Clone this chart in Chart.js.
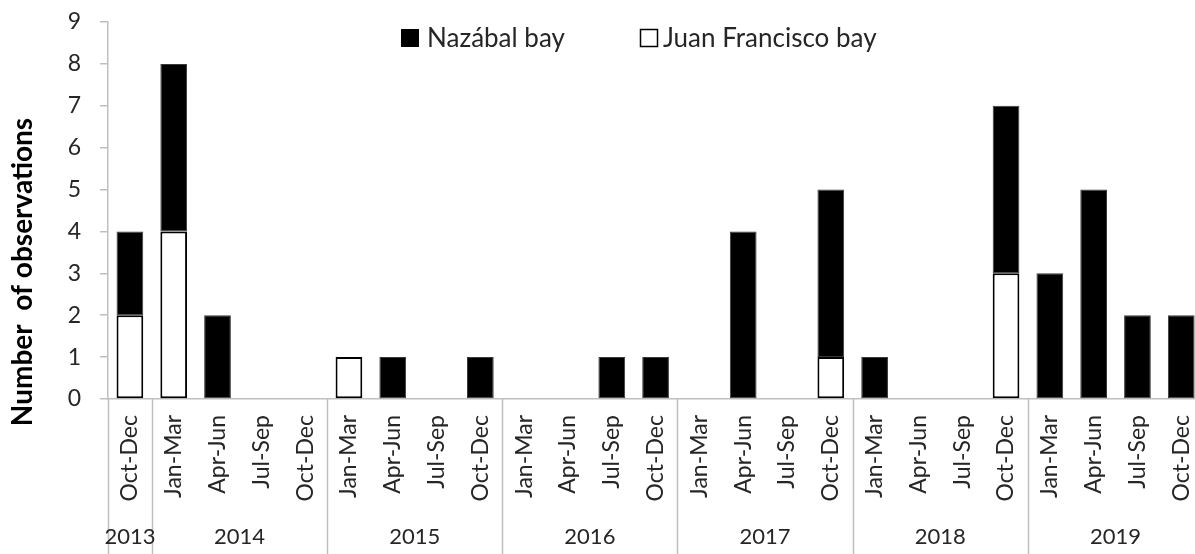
<!DOCTYPE html>
<html>
<head>
<meta charset="utf-8">
<script src="https://cdn.jsdelivr.net/npm/chart.js@4"></script>
<style>
  html, body { margin: 0; padding: 0; background: #fff; overflow: hidden; }
  #wrap { width: 1225px; height: 554px; }
</style>
</head>
<body>
<div id="wrap"><canvas id="myChart"></canvas></div>
<script>
// quarters, one per bar
var quarters = ['Oct-Dec',
    'Jan-Mar', 'Apr-Jun', 'Jul-Sep', 'Oct-Dec',
    'Jan-Mar', 'Apr-Jun', 'Jul-Sep', 'Oct-Dec',
    'Jan-Mar', 'Apr-Jun', 'Jul-Sep', 'Oct-Dec',
    'Jan-Mar', 'Apr-Jun', 'Jul-Sep', 'Oct-Dec',
    'Jan-Mar', 'Apr-Jun', 'Jul-Sep', 'Oct-Dec',
    'Jan-Mar', 'Apr-Jun', 'Jul-Sep', 'Oct-Dec'];

// year groups under the quarters
var years = ['2013', '2014', '2015', '2016', '2017', '2018', '2019'];
var quartersPerYear = [1, 4, 4, 4, 4, 4, 4];

var nazabal = [2, 4, 2, 0, 0, 0, 1, 0, 1, 0, 0, 1, 1, 0, 4, 0, 4, 1, 0, 0, 4, 3, 5, 2, 2];
var juanFrancisco = [2, 4, 0, 0, 0, 1, 0, 0, 0, 0, 0, 0, 0, 0, 0, 0, 1, 0, 0, 0, 3, 0, 0, 0, 0];

var yTicks = [0, 1, 2, 3, 4, 5, 6, 7, 8, 9];

var textColor = '#262626';
var axisColor = '#bfbfbf';
var fontFamily = 'Lato, "Open Sans", sans-serif';

function noZero(v) { return v === 0 ? null : v; }

// year separators, year labels, y title and legend
var extras = {
    id: 'extras',
    afterDraw: function(chart) {
        var ctx = chart.ctx;
        var x = chart.scales.x;
        var y = chart.scales.y;
        var half = (x.getPixelForValue(1) - x.getPixelForValue(0)) / 2;
        var base = y.getPixelForValue(0);
        ctx.save();
        ctx.strokeStyle = axisColor;
        ctx.lineWidth = 1.5;
        var idx = 0;
        var edges = [0];
        for (var i = 0; i < quartersPerYear.length; i++) {
            idx += quartersPerYear[i];
            edges.push(idx);
        }
        edges.forEach(function(e) {
            if (e >= quarters.length) return;
            var px = Math.round(x.getPixelForValue(e) - half) + 0.5;
            ctx.beginPath();
            ctx.moveTo(px, base);
            ctx.lineTo(px, chart.height);
            ctx.stroke();
        });
        ctx.fillStyle = textColor;
        ctx.font = '22px ' + fontFamily;
        ctx.textAlign = 'center';
        ctx.textBaseline = 'middle';
        for (var j = 0; j < years.length; j++) {
            var a = x.getPixelForValue(edges[j]) - half;
            var b = x.getPixelForValue(edges[j + 1] - 1) + half;
            ctx.fillText(years[j], (a + b) / 2, 537);
        }
        // y axis title
        ctx.save();
        ctx.translate(23, 272);
        ctx.rotate(-Math.PI / 2);
        ctx.font = 'bold 28px ' + fontFamily;
        ctx.fillStyle = '#000';
        ctx.fillText('Number  of observations', 0, 0);
        ctx.restore();
        // legend
        ctx.font = '26px ' + fontFamily;
        ctx.textAlign = 'left';
        ctx.fillStyle = '#000';
        ctx.fillRect(401, 29, 18, 18);
        ctx.fillStyle = textColor;
        ctx.fillText(chart.data.datasets[1].label, 427, 39);
        ctx.strokeStyle = '#000';
        ctx.lineWidth = 1.5;
        ctx.strokeRect(640.5, 29.5, 17, 17);
        ctx.fillText(chart.data.datasets[0].label, 663, 39);
        ctx.restore();
    }
};

var myChart = new Chart(document.getElementById('myChart').getContext('2d'), {
    type: 'bar',
    data: {
        labels: quarters,
        datasets: [
            {
                label: 'Juan Francisco bay',
                data: juanFrancisco.map(noZero),
                backgroundColor: '#ffffff',
                borderColor: '#000000',
                borderWidth: 2,
                borderSkipped: false
            },
            {
                label: 'Nazábal bay',
                data: nazabal.map(noZero),
                backgroundColor: '#000000',
                borderColor: '#3a3a3a',
                borderWidth: 1,
                borderSkipped: false
            }
        ]
    },
    options: {
        responsive: true,
        maintainAspectRatio: false,
        animation: false,
        datasets: { bar: { categoryPercentage: 1, barPercentage: 0.61 } },
        layout: { padding: { top: 22, right: 7, left: 0, bottom: 0 } },
        plugins: { legend: { display: false }, tooltip: { enabled: false } },
        scales: {
            x: {
                stacked: true,
                grid: { drawOnChartArea: false, drawTicks: false },
                border: { color: axisColor, width: 1.5 },
                ticks: {
                    minRotation: 90, maxRotation: 90, autoSkip: false,
                    padding: 16, color: textColor,
                    font: { family: fontFamily, size: 23 }
                },
                afterFit: function(s) { s.height = 155; }
            },
            y: {
                stacked: true,
                min: 0, max: 9,
                afterBuildTicks: function(s) { s.ticks = yTicks.map(function(v) { return { value: v }; }); },
                grid: { drawOnChartArea: false, tickLength: 8, color: axisColor, lineWidth: 1.5 },
                border: { color: axisColor, width: 1.5 },
                ticks: {
                    padding: 19, color: textColor,
                    font: { family: fontFamily, size: 23 }
                },
                afterFit: function(s) { s.width = 108; s.paddingTop = 0; s.paddingBottom = 0; }
            }
        }
    },
    plugins: [extras]
});
</script>
</body>
</html>
